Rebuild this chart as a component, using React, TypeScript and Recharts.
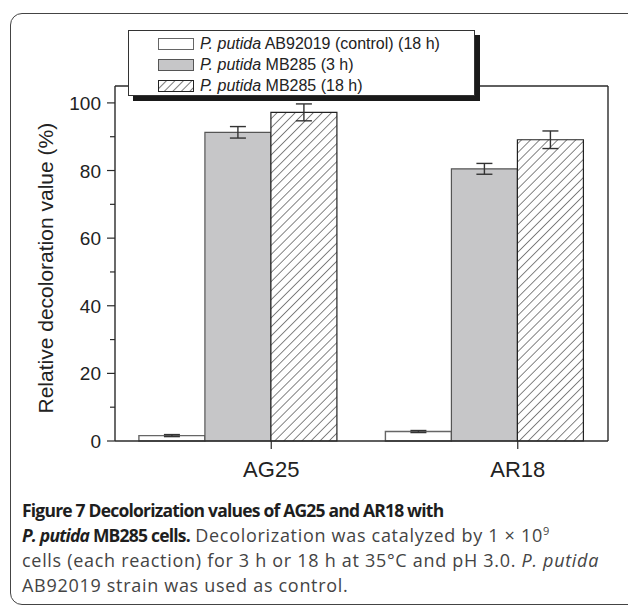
import { BarChart, Bar, XAxis, YAxis, ErrorBar, ReferenceLine, Legend } from "recharts";

const categories = ["AG25", "AR18"];
const controlValues = [1.6, 2.8];
const controlErrors = [0.3, 0.3];
const mb285ShortValues = [91.3, 80.5];
const mb285ShortErrors = [1.7, 1.6];
const mb285LongValues = [97.2, 89.1];
const mb285LongErrors = [2.5, 2.6];
const yTicks = [0, 10, 20, 30, 40, 50, 60, 70, 80, 90, 100];
const seriesLabels = ["AB92019 (control) (18 h)", "MB285 (3 h)", "MB285 (18 h)"];

const data = categories.map((name, i) => ({
  name,
  control: controlValues[i],
  controlErr: controlErrors[i],
  short: mb285ShortValues[i],
  shortErr: mb285ShortErrors[i],
  long: mb285LongValues[i],
  longErr: mb285LongErrors[i],
}));

const AXIS = "#2a2a2a";
const FONT = '"Liberation Sans", Arial, sans-serif';

const swatches = [
  { fill: "#fff", stroke: "#666" },
  { fill: "#c6c6c8", stroke: "#555" },
  { fill: "url(#hatchLegend)", stroke: "#222" },
];

const YTick = (props: any) => {
  const { x, y, payload } = props;
  const axisX = x + 14;
  const major = payload.value % 20 === 0;
  return (
    <g>
      <line x1={axisX - (major ? 8 : 5)} x2={axisX} y1={y} y2={y} stroke={AXIS} strokeWidth={1.2} />
      {major && (
        <text x={x} y={y} dy={7} textAnchor="end" fontSize={19} fill="#222" fontFamily={FONT}>
          {payload.value}
        </text>
      )}
    </g>
  );
};

// category label sits at the join of the 2nd and 3rd bar, as in the original
const XTick = (props: any) => {
  const { x, y, payload } = props;
  const tx = x + 33;
  const axisY = y - 12;
  return (
    <g>
      <line x1={tx} x2={tx} y1={axisY} y2={axisY + 8} stroke={AXIS} strokeWidth={1.2} />
      <text x={tx} y={axisY + 36} textAnchor="middle" fontSize={22} fill="#222" fontFamily={FONT}>
        {payload.value}
      </text>
    </g>
  );
};

const LegendBox = () => (
  <div
    style={{
      width: 347,
      height: 66,
      boxSizing: "border-box",
      border: "1px solid #333",
      background: "#fff",
      boxShadow: "5px 5px 0 #1a1a1a",
      paddingTop: 2,
      fontFamily: FONT,
      fontSize: 16,
      color: "#222",
    }}
  >
    {seriesLabels.map((label, i) => (
      <div key={label} style={{ display: "flex", alignItems: "center", height: 21, paddingLeft: 29 }}>
        <svg width={36} height={12} style={{ marginRight: 6 }}>
          <defs>
            <pattern id="hatchLegend" patternUnits="userSpaceOnUse" width={6} height={6} patternTransform="rotate(45)">
              <rect width={6} height={6} fill="#fff" />
              <line x1={0} y1={0} x2={0} y2={6} stroke="#222" strokeWidth={1.2} />
            </pattern>
          </defs>
          <rect x={0.5} y={0.5} width={35} height={11} fill={swatches[i].fill} stroke={swatches[i].stroke} />
        </svg>
        <span>
          <i>P. putida</i> {label}
        </span>
      </div>
    ))}
  </div>
);

const bold = { fontWeight: 700, color: "#1e1e1e", fontSize: 17.5, letterSpacing: -0.8 };

export default function App() {
  return (
    <div style={{ position: "absolute", left: 0, top: 0, width: 628, height: 605, background: "#fff", overflow: "hidden" }}>
      <div
        style={{
          position: "absolute",
          left: 10,
          top: 13,
          width: 630,
          height: 590,
          border: "1.5px solid #444",
          borderRadius: 12,
        }}
      />
      <div style={{ position: "absolute", left: 0, top: 0 }}>
        <BarChart
          width={628}
          height={500}
          data={data}
          margin={{ top: 86, right: 0, bottom: 0, left: 0 }}
          barCategoryGap="9.7%"
          barGap={0}
        >
          <defs>
            <pattern id="hatch" patternUnits="userSpaceOnUse" width={6.4} height={6.4} patternTransform="rotate(45)">
              <rect width={6.4} height={6.4} fill="#fff" />
              <line x1={0} y1={0} x2={0} y2={6.4} stroke="#222" strokeWidth={1.1} />
            </pattern>
          </defs>
          <XAxis
            dataKey="name"
            height={59}
            tickSize={8}
            tickMargin={4}
            tickLine={false}
            tick={<XTick />}
            axisLine={{ stroke: AXIS, strokeWidth: 1.4 }}
          />
          <YAxis
            width={115}
            domain={[0, 105]}
            ticks={yTicks}
            interval={0}
            tickSize={8}
            tickMargin={6}
            tickLine={false}
            tick={<YTick />}
            axisLine={{ stroke: AXIS, strokeWidth: 1.4 }}
            label={{
              value: "Relative decoloration value (%)",
              angle: -90,
              position: "insideLeft",
              dx: 41,
              dy: 150,
              fontSize: 21,
              fill: "#222",
              fontFamily: FONT,
            }}
          />
          <YAxis
            yAxisId="right"
            orientation="right"
            width={20}
            domain={[0, 105]}
            tick={false}
            tickLine={false}
            axisLine={{ stroke: AXIS, strokeWidth: 1.4 }}
          />
          <ReferenceLine y={105} stroke={AXIS} strokeWidth={1.4} />
          <Bar dataKey="control" fill="#fff" stroke="#666" strokeWidth={1.4} isAnimationActive={false}>
            <ErrorBar dataKey="controlErr" width={8} stroke="#333" strokeWidth={1.4} />
          </Bar>
          <Bar dataKey="short" fill="#c6c6c8" stroke="#555" strokeWidth={1.2} isAnimationActive={false}>
            <ErrorBar dataKey="shortErr" width={8} stroke="#333" strokeWidth={1.4} />
          </Bar>
          <Bar dataKey="long" fill="url(#hatch)" stroke="#222" strokeWidth={1.2} isAnimationActive={false}>
            <ErrorBar dataKey="longErr" width={8} stroke="#333" strokeWidth={1.4} />
          </Bar>
          <Legend
            layout="vertical"
            align="center"
            verticalAlign="middle"
            content={<LegendBox />}
            wrapperStyle={{ left: 128, top: 30, width: 352, zIndex: 10 }}
          />
        </BarChart>
      </div>
      <div
        style={{
          position: "absolute",
          left: 22,
          top: 498,
          fontFamily: '"Open Sans", sans-serif',
          fontSize: 18,
          lineHeight: "25px",
          color: "#444",
          whiteSpace: "nowrap",
          letterSpacing: 0.7,
        }}
      >
        <div style={bold}>Figure 7 Decolorization values of AG25 and AR18 with</div>
        <div>
          <span style={bold}>
            <i>P. putida</i> MB285 cells.
          </span>{" "}
          Decolorization was catalyzed by 1 × 10
          <sup style={{ fontSize: 11, lineHeight: 0 }}>9</sup>
        </div>
        <div>
          cells (each reaction) for 3 h or 18 h at 35°C and pH 3.0. <i>P. putida</i>
        </div>
        <div>AB92019 strain was used as control.</div>
      </div>
    </div>
  );
}
